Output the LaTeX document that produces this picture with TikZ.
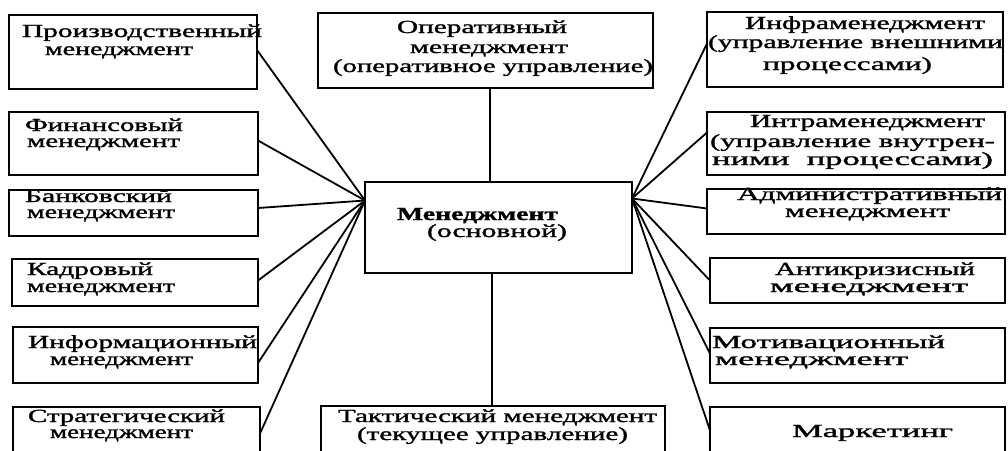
\documentclass[tikz,border=0pt]{standalone}
\usepackage{fontspec}
\setmainfont{Liberation Serif}[FakeBold=1.2]
\usepackage{graphicx}
\newcommand\tline[5]{\node[txt] (#1) at (#2,#3) {\resizebox{#4pt}{\height}{#5}};}
\begin{document}
\begin{tikzpicture}[x=1pt,y=-1pt,
  box/.style={draw, line width=2pt, inner sep=0pt, outer sep=0pt, fill=none},
  link/.style={line width=1.8pt},
  txt/.style={anchor=base west, inner sep=0pt, outer sep=0pt, font=\fontsize{18.5}{20}\selectfont}]
\path[use as bounding box] (0,0) rectangle (1008,450);
\begin{scope}
\clip (0,0) rectangle (1008,450);
% left boxes
\node[box, minimum width=248pt, minimum height=74pt] (prod) at (133,52) {};
\node[box, minimum width=249pt, minimum height=63pt] (fin) at (133.5,143.5) {};
\node[box, minimum width=249pt, minimum height=46pt] (bank) at (133.5,213) {};
\node[box, minimum width=246pt, minimum height=47pt] (kadr) at (135,282.5) {};
\node[box, minimum width=245pt, minimum height=56pt] (info) at (135.5,355) {};
\node[box, minimum width=247pt, minimum height=63pt] (strat) at (136.5,438.5) {};
% center boxes
\node[box, minimum width=335pt, minimum height=75pt] (oper) at (485.5,50.5) {};
\node[box, minimum width=267pt, minimum height=91pt] (main) at (498.5,227.5) {};
\node[box, minimum width=344pt, minimum height=64pt] (takt) at (493,438) {};
% right boxes
\node[box, minimum width=296pt, minimum height=75pt] (infra) at (855,49.5) {};
\node[box, minimum width=298pt, minimum height=63pt] (intra) at (856,143.5) {};
\node[box, minimum width=298pt, minimum height=45pt] (admin) at (856,211.5) {};
\node[box, minimum width=295pt, minimum height=45pt] (anti) at (857.5,280.5) {};
\node[box, minimum width=295pt, minimum height=55pt] (motiv) at (857.5,355.5) {};
\node[box, minimum width=295pt, minimum height=63pt] (mark) at (857.5,438.5) {};
% hubs
\coordinate (hubL) at ([yshift=27pt]main.west);
\coordinate (hubR) at ([yshift=29pt]main.east);
% connectors left
\draw[link] ([yshift=2pt]prod.east) -- (hubL);
\draw[link] ([yshift=3pt]fin.east) -- (hubL);
\draw[link] ([yshift=5pt]bank.east) -- (hubL);
\draw[link] ([yshift=2pt]kadr.east) -- (hubL);
\draw[link] ([yshift=-8pt]info.east) -- (hubL);
\draw[link] ([yshift=5pt]strat.east) -- (hubL);
% connectors right
\draw[link] ([yshift=6pt]infra.west) -- (hubR);
\draw[link] ([yshift=11pt]intra.west) -- (hubR);
\draw[link] ([yshift=3pt]admin.west) -- (hubR);
\draw[link] (anti.west) -- (hubR);
\draw[link] ([yshift=2pt]motiv.west) -- (hubR);
\draw[link] ([yshift=8pt]mark.west) -- (hubR);
% vertical connectors
\draw[link] ([xshift=4.5pt]oper.south) -- ([xshift=-8.5pt]main.north);
\draw[link] ([xshift=-6.5pt]main.south) -- ([xshift=-1pt]takt.north);
% texts left
\tline{prodA}{22}{37}{240}{Производственный}
\tline{prodB}{45}{55}{148}{менеджмент}
\tline{finA}{25}{131}{158}{Финансовый}
\tline{finB}{27}{147}{153}{менеджмент}
\tline{bankA}{25}{202}{147}{Банковский}
\tline{bankB}{27}{218}{148}{менеджмент}
\tline{kadrA}{27}{275}{126}{Кадровый}
\tline{kadrB}{27}{292}{148}{менеджмент}
\tline{infoA}{28}{348}{229}{Информационный}
\tline{infoB}{50}{365}{143}{менеджмент}
\tline{stratA}{28}{422}{197}{Стратегический}
\tline{stratB}{50}{438}{143}{менеджмент}
% texts center
\tline{operA}{397}{33}{170}{Оперативный}
\tline{operB}{410}{53}{158}{менеджмент}
\tline{operC}{333}{72}{320}{(оперативное управление)}
\tline{mainA}{397}{220}{161}{\bfseries Менеджмент}
\tline{mainB}{427}{237}{140}{(основной)}
\tline{taktA}{338}{422}{319}{Тактический менеджмент}
\tline{taktB}{357}{440}{271}{(текущее управление)}
% texts right
\tline{infraA}{745}{29}{240}{Инфраменеджмент}
\tline{infraB}{708}{48}{295}{(управление внешними}
\tline{infraC}{763}{70}{169}{процессами)}
\tline{intraA}{750}{127}{235}{Интраменеджмент}
\tline{intraB}{710}{147}{285}{(управление внутрен-}
\tline{intraC}{712}{165}{281}{ними\ \ процессами)}
\tline{adminA}{737}{200}{265}{Административный}
\tline{adminB}{785}{217}{165}{менеджмент}
\tline{antiA}{775}{275}{200}{Антикризисный}
\tline{antiB}{770}{292}{198}{менеджмент}
\tline{motivA}{712}{348}{233}{Мотивационный}
\tline{motivB}{715}{365}{193}{менеджмент}
\tline{markA}{792}{437}{161}{Маркетинг}
\end{scope}
\end{tikzpicture}
\end{document}
